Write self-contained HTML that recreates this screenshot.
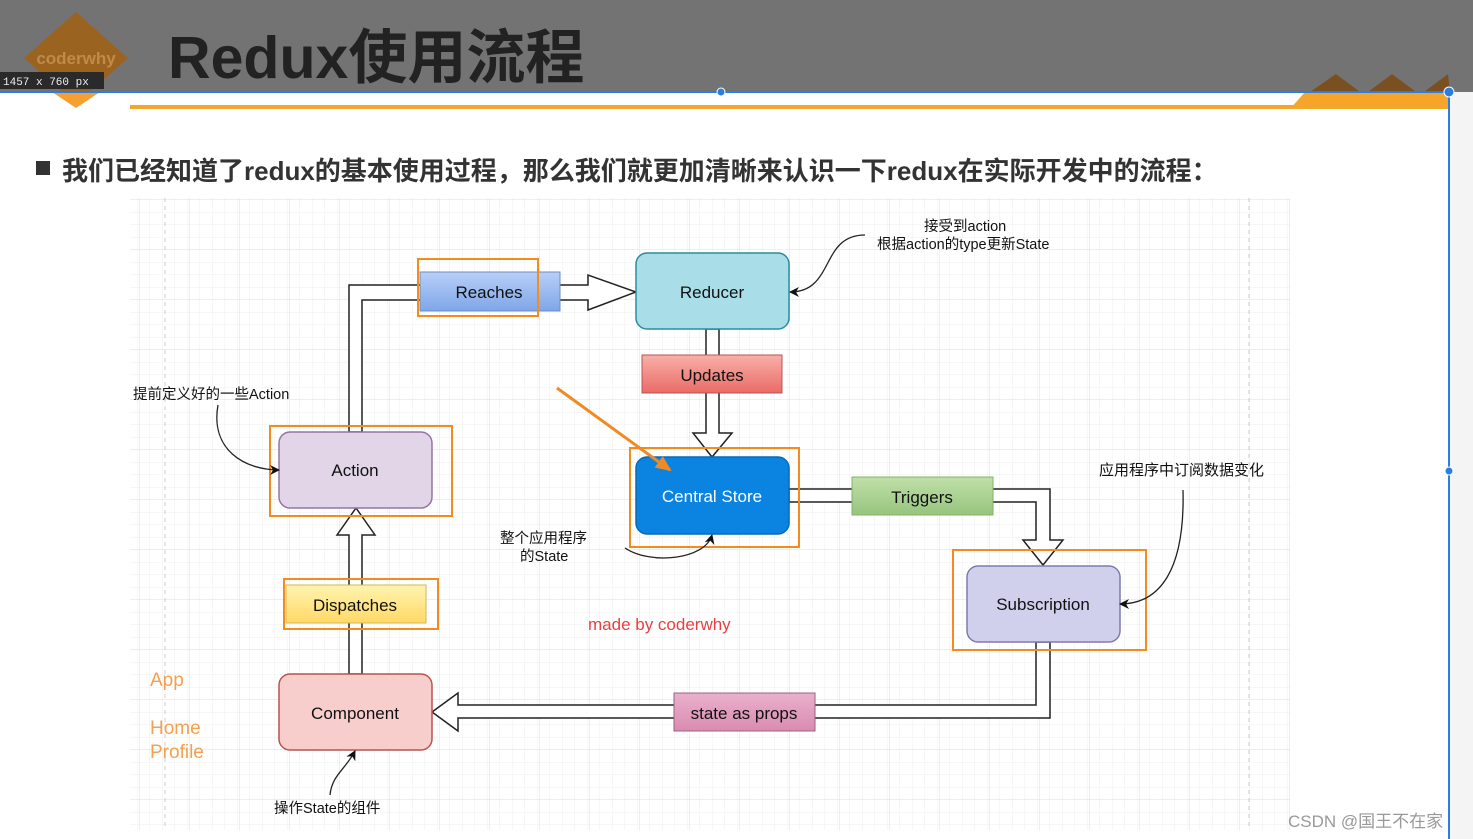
<!DOCTYPE html>
<html><head><meta charset="utf-8"><style>
body{margin:0;width:1473px;height:839px;overflow:hidden;background:#fff;font-family:"Liberation Sans","Noto Sans CJK SC",sans-serif;}
</style></head><body>
<svg width="1473" height="839" xmlns="http://www.w3.org/2000/svg" style="position:absolute;left:0;top:0">
<defs>
<pattern id="mg" width="12.5" height="12.5" patternUnits="userSpaceOnUse"><path d="M12.5 0V12.5H0" fill="none" stroke="#efefef" stroke-width="1"/></pattern>
<pattern id="Mg" width="50" height="50" patternUnits="userSpaceOnUse" x="140" y="200"><path d="M50 0V50H0" fill="none" stroke="#dedede" stroke-width="1"/></pattern>
<linearGradient id="gb" x1="0" y1="0" x2="0" y2="1"><stop offset="0" stop-color="#b8cff7"/><stop offset="1" stop-color="#7ea6e8"/></linearGradient>
<linearGradient id="gr" x1="0" y1="0" x2="0" y2="1"><stop offset="0" stop-color="#f8b0a8"/><stop offset="1" stop-color="#ea6b66"/></linearGradient>
<linearGradient id="gg" x1="0" y1="0" x2="0" y2="1"><stop offset="0" stop-color="#c0e0a8"/><stop offset="1" stop-color="#97c47e"/></linearGradient>
<linearGradient id="gy" x1="0" y1="0" x2="0" y2="1"><stop offset="0" stop-color="#fff4b0"/><stop offset="1" stop-color="#ffd966"/></linearGradient>
<linearGradient id="gp" x1="0" y1="0" x2="0" y2="1"><stop offset="0" stop-color="#eab0cc"/><stop offset="1" stop-color="#d98cb0"/></linearGradient>
<marker id="ah" markerWidth="10" markerHeight="10" refX="9" refY="5" orient="auto" markerUnits="userSpaceOnUse"><path d="M0 0L10 5L0 10L3 5Z" fill="#111"/></marker>
<marker id="oh" markerWidth="16" markerHeight="14" refX="14" refY="7" orient="auto" markerUnits="userSpaceOnUse"><path d="M0 0L16 7L0 14Z" fill="#f08a24"/></marker>
</defs>
<rect x="0" y="0" width="1473" height="92" fill="#737373"/>
<rect x="1450" y="92" width="23" height="747" fill="#f4f4f4"/>
<path d="M76 12L128 58L76 104L24 58Z" fill="#9a6420"/>
<path d="M52 92L100 92L76 108Z" fill="#f5a030"/>
<text x="76" y="64" font-size="17" font-weight="bold" fill="#c08a48" text-anchor="middle">coderwhy</text>
<rect x="0" y="72" width="104" height="17" fill="#2a2a2a"/>
<text x="3" y="85" font-size="11" fill="#eee" font-family="Liberation Mono,monospace">1457 x 760  px</text>
<text x="168" y="78" font-size="59" font-weight="bold" fill="#222">Redux使用流程</text>
<path d="M1310 92L1336 74L1360 92Z M1368 92L1392 74L1416 92Z M1424 92L1448 74L1450 92Z" fill="#7a5020"/>
<path d="M1305 92L1450 92L1450 109L1290 109Z" fill="#f5a52a"/>
<rect x="130" y="105" width="1180" height="4" fill="#f5a52a"/>
<rect x="0" y="91" width="1450" height="2" fill="#2a7de1"/>
<rect x="1448" y="91" width="2" height="748" fill="#2a7de1"/>
<circle cx="721" cy="92" r="4" fill="#2a7de1" stroke="#fff"/>
<circle cx="1449" cy="92" r="5" fill="#2a7de1" stroke="#fff"/>
<circle cx="1449" cy="471" r="4" fill="#2a7de1" stroke="#fff"/>
<rect x="36" y="161" width="14" height="14" fill="#333"/>
<text x="62" y="180" font-size="26" font-weight="bold" fill="#333">我们已经知道了redux的基本使用过程，那么我们就更加清晰来认识一下redux在实际开发中的流程：</text>
<rect x="130" y="198" width="1160" height="632" fill="url(#mg)"/>
<rect x="130" y="198" width="1160" height="632" fill="url(#Mg)"/>
<line x1="165" y1="198" x2="165" y2="830" stroke="#ccc" stroke-dasharray="4 4"/>
<line x1="1249" y1="198" x2="1249" y2="830" stroke="#ccc" stroke-dasharray="4 4"/>
<g fill="#fff" stroke="#222" stroke-width="1.5">
<path d="M349 432V285H588V275L636 292L588 310V300H362V432Z"/>
<path d="M706 329V433H693L712 457L732 433H719V329Z"/>
<path d="M789 489H1050V540H1063L1043 565L1023 540H1036V502H789Z"/>
<path d="M1036 642V705H458V693L432 712L458 731V718H1050V642Z"/>
<path d="M349 674V535H337L356 508L375 535H362V674Z"/>
</g>
<rect x="636" y="253" width="153" height="76" rx="11" fill="#a9dde8" stroke="#2a8d9c" stroke-width="1.5"/>
<text x="712" y="298" font-size="17" text-anchor="middle" fill="#111">Reducer</text>
<rect x="420" y="272" width="140" height="39" fill="url(#gb)" stroke="#6c8ebf"/>
<text x="489" y="298" font-size="17" text-anchor="middle" fill="#111">Reaches</text>
<rect x="642" y="355" width="140" height="38" fill="url(#gr)" stroke="#b85450"/>
<text x="712" y="381" font-size="17" text-anchor="middle" fill="#111">Updates</text>
<rect x="636" y="457" width="153" height="77" rx="11" fill="#0a84e0" stroke="#0a6ab8" stroke-width="1.5"/>
<text x="712" y="502" font-size="17" text-anchor="middle" fill="#fff">Central Store</text>
<rect x="852" y="477" width="141" height="38" fill="url(#gg)" stroke="#82b366"/>
<text x="922" y="503" font-size="17" text-anchor="middle" fill="#111">Triggers</text>
<rect x="967" y="566" width="153" height="76" rx="11" fill="#d0d0ec" stroke="#7c7cb0" stroke-width="1.5"/>
<text x="1043" y="610" font-size="17" text-anchor="middle" fill="#111">Subscription</text>
<rect x="279" y="432" width="153" height="76" rx="11" fill="#e1d5e7" stroke="#9673a6" stroke-width="1.5"/>
<text x="355" y="476" font-size="17" text-anchor="middle" fill="#111">Action</text>
<rect x="286" y="585" width="140" height="38" fill="url(#gy)" stroke="#d6b656"/>
<text x="355" y="611" font-size="17" text-anchor="middle" fill="#111">Dispatches</text>
<rect x="279" y="674" width="153" height="76" rx="11" fill="#f8cecc" stroke="#b85450" stroke-width="1.5"/>
<text x="355" y="719" font-size="17" text-anchor="middle" fill="#111">Component</text>
<rect x="674" y="693" width="141" height="38" fill="url(#gp)" stroke="#996185"/>
<text x="744" y="719" font-size="17" text-anchor="middle" fill="#111">state as props</text>
<g fill="none" stroke="#f58a1f" stroke-width="2">
<rect x="418" y="259" width="120" height="57"/>
<rect x="630" y="448" width="169" height="99"/>
<rect x="953" y="550" width="193" height="100"/>
<rect x="270" y="426" width="182" height="90"/>
<rect x="284" y="579" width="154" height="50"/>
</g>
<line x1="557" y1="388" x2="670" y2="470" stroke="#f08a24" stroke-width="3" marker-end="url(#oh)"/>
<g fill="none" stroke="#222" stroke-width="1.3" marker-end="url(#ah)">
<path d="M865 235C820 235 835 292 790 292"/>
<path d="M218 405C210 450 245 470 279 470"/>
<path d="M625 548C650 565 705 560 712 535"/>
<path d="M1183 490C1185 570 1160 604 1120 604"/>
<path d="M330 795C332 775 345 770 355 751"/>
</g>
<g font-size="14.5" fill="#111">
<text x="924" y="231">接受到action</text>
<text x="877" y="249">根据action的type更新State</text>
<text x="133" y="399">提前定义好的一些Action</text>
<text x="500" y="543">整个应用程序</text>
<text x="520" y="561">的State</text>
<text x="1099" y="475" font-size="15">应用程序中订阅数据变化</text>
<text x="274" y="813">操作State的组件</text>
</g>
<text x="588" y="630" font-size="17" fill="#e84040">made by coderwhy</text>
<g font-size="19" fill="#f5a050">
<text x="150" y="686">App</text>
<text x="150" y="734">Home</text>
<text x="150" y="758">Profile</text>
</g>
<text x="1288" y="827" font-size="17" fill="#999">CSDN @国王不在家</text>
</svg>
</body></html>
